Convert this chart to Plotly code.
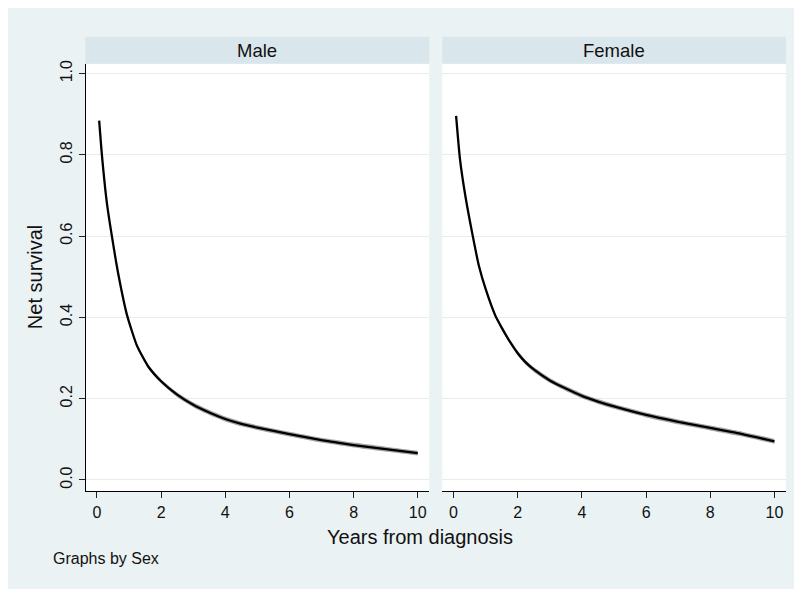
import plotly.graph_objects as go

# ---- data ----
male_years = [0.07, 0.155, 0.31, 0.47, 0.67, 0.94, 1.25, 1.61, 2.0, 2.5, 3.0, 3.5, 4.0, 4.5, 5.0, 6.0, 7.0, 8.0, 9.0, 10.0]
male_vals  = [0.884, 0.800, 0.682, 0.598, 0.505, 0.405, 0.330, 0.278, 0.243, 0.210, 0.185, 0.166, 0.150, 0.138, 0.129, 0.113, 0.098, 0.086, 0.076, 0.066]
male_lower = [0.882, 0.797, 0.679, 0.595, 0.502, 0.401, 0.325, 0.273, 0.238, 0.204, 0.179, 0.160, 0.144, 0.132, 0.123, 0.107, 0.092, 0.080, 0.070, 0.060]
male_upper = [0.886, 0.803, 0.685, 0.601, 0.508, 0.409, 0.335, 0.283, 0.248, 0.216, 0.191, 0.172, 0.156, 0.144, 0.135, 0.119, 0.104, 0.092, 0.082, 0.072]

female_years = [0.08, 0.20, 0.37, 0.60, 0.79, 1.0, 1.3, 1.5, 1.72, 2.0, 2.24, 2.5, 3.0, 3.5, 4.0, 4.5, 5.0, 6.0, 7.0, 8.0, 9.0, 10.0]
female_vals  = [0.896, 0.790, 0.698, 0.600, 0.527, 0.470, 0.405, 0.375, 0.345, 0.312, 0.290, 0.272, 0.245, 0.225, 0.207, 0.193, 0.181, 0.160, 0.143, 0.128, 0.113, 0.095]
female_lower = [0.894, 0.787, 0.695, 0.597, 0.523, 0.466, 0.400, 0.370, 0.340, 0.306, 0.284, 0.266, 0.239, 0.219, 0.201, 0.187, 0.175, 0.154, 0.137, 0.122, 0.107, 0.089]
female_upper = [0.898, 0.793, 0.701, 0.603, 0.531, 0.474, 0.410, 0.380, 0.350, 0.318, 0.296, 0.278, 0.251, 0.231, 0.213, 0.199, 0.187, 0.166, 0.149, 0.134, 0.119, 0.101]

panel_titles = ["Male", "Female"]
x_ticks = [0, 2, 4, 6, 8, 10]
y_ticks = [0.0, 0.2, 0.4, 0.6, 0.8, 1.0]
x_title = "Years from diagnosis"
y_title = "Net survival"
note = "Graphs by Sex"

# ---- layout geometry (page has an 8px body margin) ----
O = 8
W, H = 802 - O, 589 - O
def fx(px):
    return (px - O) / W
def fy(py):
    return 1 - (py - O) / H

BG = "#EAF2F3"
STRIP = "#D9E6EB"
GRID = "#E4EDEF"
FONT = "Liberation Sans, Arial, Helvetica, sans-serif"

fig = go.Figure()

def add_panel(years, vals, lo, hi, xa, ya):
    ls = dict(width=0, color="rgba(0,0,0,0)", shape="spline", smoothing=0.5)
    fig.add_trace(go.Scatter(x=years, y=lo, mode="lines", line=ls,
                             xaxis=xa, yaxis=ya, showlegend=False, hoverinfo="skip"))
    fig.add_trace(go.Scatter(x=years, y=hi, mode="lines", line=ls,
                             fill="tonexty", fillcolor="rgba(140,140,140,0.8)",
                             xaxis=xa, yaxis=ya, showlegend=False, hoverinfo="skip"))
    fig.add_trace(go.Scatter(x=years, y=vals, mode="lines",
                             line=dict(width=2.3, color="black", shape="spline", smoothing=0.5),
                             xaxis=xa, yaxis=ya, showlegend=False))

add_panel(male_years, male_vals, male_lower, male_upper, "x", "y")
add_panel(female_years, female_vals, female_lower, female_upper, "x2", "y2")

xr = [-0.35, 10.36]
yr = [-0.028, 1.0244]
ydom = [fy(490.7), fy(60)]

common_x = dict(range=xr, tickvals=x_ticks, ticks="outside", ticklen=6, tickwidth=1, tickcolor="#222",
                showline=True, linecolor="black", linewidth=1.2, showgrid=False, zeroline=False,
                tickfont=dict(family=FONT, size=16, color="#111"), fixedrange=True)

fig.update_layout(
    width=W, height=H,
    margin=dict(l=0, r=0, t=0, b=0),
    paper_bgcolor=BG, plot_bgcolor="white",
    font=dict(family=FONT, color="#111"),
    xaxis=dict(domain=[fx(85.7), fx(429.3)], anchor="y", **common_x),
    xaxis2=dict(domain=[fx(442.3), fx(786)], anchor="y2", **common_x),
    yaxis=dict(domain=ydom, anchor="x", range=yr, tickvals=y_ticks, tickformat=".1f", tickangle=-90,
               ticks="outside", ticklen=6, tickwidth=1, tickcolor="#222",
               showline=True, linecolor="black", linewidth=1.2,
               showgrid=True, gridcolor=GRID, gridwidth=1, zeroline=False,
               tickfont=dict(family=FONT, size=16, color="#111"), fixedrange=True),
    yaxis2=dict(domain=ydom, anchor="x2", range=yr, tickvals=y_ticks, showticklabels=False, ticks="",
                showline=False, showgrid=True, gridcolor=GRID, gridwidth=1, zeroline=False, fixedrange=True),
)

shapes = [
    # white right border
    dict(type="rect", xref="paper", yref="paper", x0=fx(798), x1=1, y0=0, y1=1, fillcolor="white", line=dict(width=0)),
    # strips
    dict(type="rect", xref="paper", yref="paper", x0=fx(85.3), x1=fx(429.3), y0=fy(60), y1=fy(33), fillcolor=STRIP, line=dict(width=0)),
    dict(type="rect", xref="paper", yref="paper", x0=fx(442.3), x1=fx(786), y0=fy(60), y1=fy(33), fillcolor=STRIP, line=dict(width=0)),
]
fig.update_layout(shapes=shapes)

ann = [
    dict(text=panel_titles[0], x=fx((85.3 + 429.3) / 2), y=fy(46.5), font=dict(size=18.5)),
    dict(text=panel_titles[1], x=fx((442.3 + 786) / 2), y=fy(46.5), font=dict(size=18.5)),
    dict(text=x_title, x=fx(420), y=fy(537), font=dict(size=20)),
    dict(text=y_title, x=fx(35), y=fy(275), font=dict(size=20), textangle=-90),
    dict(text=note, x=fx(50.7), y=fy(558), xanchor="left", font=dict(size=16)),
]
for a in ann:
    a.setdefault("xanchor", "center")
    a.update(xref="paper", yref="paper", yanchor="middle", showarrow=False)
    a["font"].update(family=FONT, color="#111")
fig.update_layout(annotations=ann)

fig.write_html("out.html")
